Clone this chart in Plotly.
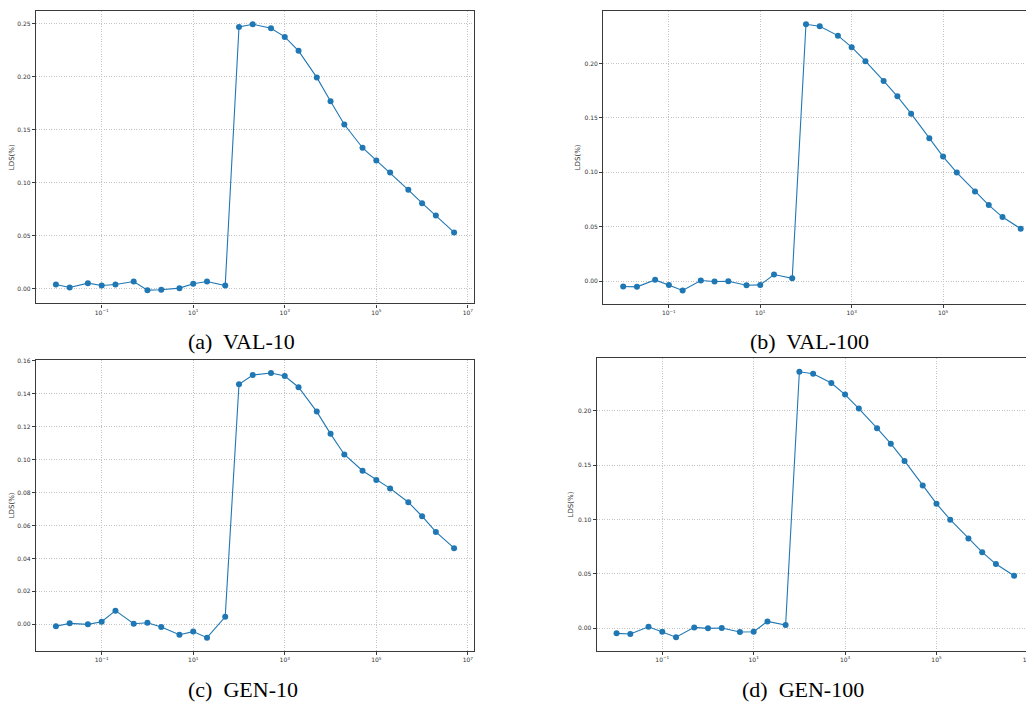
import plotly.graph_objects as go

# x values (log scale)
x_vals = [0.01, 0.02, 0.05, 0.1, 0.2, 0.5, 1, 2, 5, 10, 20, 50, 100, 200, 500,
          1000, 2000, 5000, 1e4, 2e4, 5e4, 1e5, 2e5, 5e5, 1e6, 2e6, 5e6]

val10 = [0.0038, 0.0009, 0.0050, 0.0028, 0.0038, 0.0066, -0.0016, -0.0013, 0.0003,
         0.0044, 0.0066, 0.0028, 0.2472, 0.2497, 0.2459, 0.2378, 0.2246, 0.1995,
         0.1769, 0.1550, 0.1330, 0.1210, 0.1095, 0.0932, 0.0806, 0.0690, 0.0530]

val100 = [-0.0049, -0.0052, 0.0012, -0.0034, -0.0085, 0.0006, -0.0003, 0.0000, -0.0037,
          -0.0034, 0.0061, 0.0027, 0.2360, 0.2342, 0.2256, 0.2150, 0.2021, 0.1840,
          0.1698, 0.1539, 0.1313, 0.1145, 0.0998, 0.0824, 0.0699, 0.0589, 0.0482]

gen10 = [-0.0012, 0.0006, 0.0000, 0.0016, 0.0083, 0.0004, 0.0010, -0.0016, -0.0063,
         -0.0044, -0.0081, 0.0046, 0.1457, 0.1513, 0.1525, 0.1507, 0.1439, 0.1291,
         0.1156, 0.1031, 0.0932, 0.0876, 0.0825, 0.0741, 0.0656, 0.0561, 0.0462]

gen100 = [-0.0049, -0.0055, 0.0012, -0.0034, -0.0085, 0.0006, -0.0003, 0.0000, -0.0037,
          -0.0034, 0.0061, 0.0027, 0.2360, 0.2342, 0.2256, 0.2150, 0.2021, 0.1840,
          0.1698, 0.1539, 0.1313, 0.1145, 0.0998, 0.0824, 0.0699, 0.0589, 0.0482]

captions = ["(a)  VAL-10", "(b)  VAL-100", "(c)  GEN-10", "(d)  GEN-100"]
x_tickvals = [0.1, 10, 1e3, 1e5, 1e7]
x_ticktext = ["10<sup>\u22121</sup>", "10<sup>1</sup>", "10<sup>3</sup>", "10<sup>5</sup>", "10<sup>7</sup>"]
y_dticks = [0.05, 0.05, 0.02, 0.05]

OFF = 8  # page body margin
W, H = 1034 - OFF, 704 - OFF
# panel pixel boxes in screen coords: left, right, top, bottom
boxes = [(36, 474, 8, 301.7), (603.3, 1034, 8, 302), (36, 474, 358.3, 650.7), (596.7, 1034, 357, 650.3)]
xranges = [[-2.435, 7.134], [-2.435, 6.99], [-2.435, 7.134], [-2.435, 7.134]]
cap_pos = [(241.5, 340), (809, 340), (242.5, 689.5), (802.5, 689.5)]

series = [val10, val100, gen10, gen100]
BLUE = "#1f77b4"
SPINE = "#3a3a3a"
GRID = "#c4c4c4"

fig = go.Figure()
layout = dict(width=W, height=H, margin=dict(l=0, r=0, t=0, b=0),
              plot_bgcolor="white", paper_bgcolor="white", showlegend=False,
              font=dict(family="DejaVu Sans", size=6, color="#333"))
annotations = []
for i, ys in enumerate(series):
    n = "" if i == 0 else str(i + 1)
    fig.add_trace(go.Scatter(x=x_vals, y=ys, mode="lines+markers",
                             line=dict(color=BLUE, width=1.1),
                             marker=dict(color=BLUE, size=6),
                             xaxis="x" + n, yaxis="y" + n))
    l, r, t, b = [v - OFF for v in boxes[i]]
    ymin, ymax = min(ys), max(ys)
    pad = (ymax - ymin) * 0.05
    layout["xaxis" + n] = dict(
        type="log", domain=[l / W, min(r / W, 1)], range=xranges[i], anchor="y" + n,
        tickvals=x_tickvals, ticktext=x_ticktext,
        showgrid=True, gridcolor=GRID, griddash="1px,1.5px", gridwidth=0.8,
        showline=True, linecolor=SPINE, linewidth=1.3, mirror=True,
        ticks="outside", ticklen=3, tickwidth=0.8, tickcolor=SPINE,
        tickfont=dict(size=6, color="#333"), zeroline=False)
    layout["yaxis" + n] = dict(
        domain=[1 - b / H, 1 - t / H], range=[ymin - pad, ymax + pad], anchor="x" + n,
        tick0=0, dtick=y_dticks[i], tickformat=".2f",
        showgrid=True, gridcolor=GRID, griddash="1px,1.5px", gridwidth=0.8,
        showline=True, linecolor=SPINE, linewidth=1.3, mirror=(i in (0, 2)),
        ticks="outside", ticklen=3, tickwidth=0.8, tickcolor=SPINE,
        tickfont=dict(size=6, color="#333"), zeroline=False,
        title=dict(text="LDS(%)", font=dict(size=7, color="#333"), standoff=3))
    cx, cy = cap_pos[i]
    annotations.append(dict(text=captions[i], x=(cx - OFF) / W, y=1 - (cy - OFF) / H,
                            xref="paper", yref="paper",
                            xanchor="center", yanchor="middle", showarrow=False,
                            font=dict(family="Liberation Serif", size=22, color="black")))
layout["annotations"] = annotations
fig.update_layout(**layout)
fig.write_html("out.html")
